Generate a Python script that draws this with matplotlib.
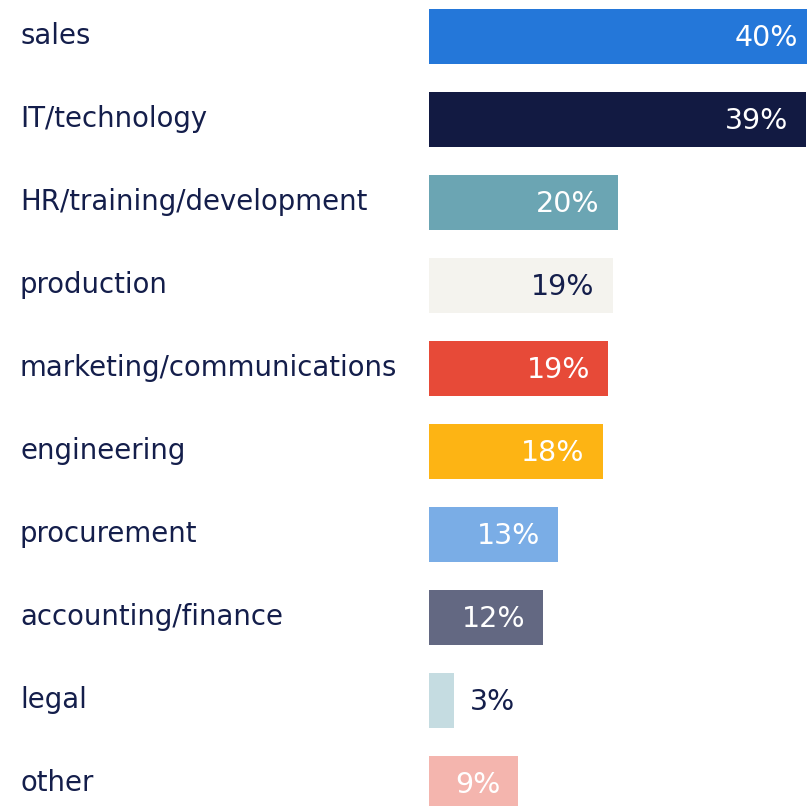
import matplotlib
matplotlib.use("Agg")
from matplotlib import pyplot as plt
from matplotlib import transforms

categories = ["sales", "IT/technology", "HR/training/development", "production",
              "marketing/communications", "engineering", "procurement",
              "accounting/finance", "legal", "other"]
# bar lengths (the printed labels are rounded)
values = [40.2, 39.2, 19.6, 19.1, 18.6, 18.05, 13.4, 11.9, 2.6, 9.3]
value_labels = ["40%", "39%", "20%", "19%", "19%", "18%", "13%", "12%", "3%", "9%"]
colors = ["#2477d9", "#121a42", "#6ba5b3", "#f4f3ee", "#e74a38",
          "#fdb414", "#7aade6", "#636882", "#c5dce1", "#f4b5ae"]
label_colors = ["white", "white", "white", "#141e4b", "white",
                "white", "white", "white", "#141e4b", "white"]

NAVY = "#141e4b"
W, H = 807, 806
PX_PER_PCT = 9.62
PITCH = 83
FIRST_CENTER = 36.5

def main():
    fig = plt.figure(figsize=(W / 100, H / 100), dpi=100)
    left = 429
    ax = fig.add_axes([left / W, 0, (W - left) / W, 1])
    ax.set_xlim(0, (W - left) / PX_PER_PCT)
    top = -FIRST_CENTER / PITCH
    bottom = (len(categories) - 1) + (H - (FIRST_CENTER + PITCH * (len(categories) - 1))) / PITCH
    ax.set_ylim(bottom, top)
    ax.axis("off")

    ypos = list(range(len(categories)))
    ax.barh(ypos, values, height=55 / PITCH, color=colors, left=0)

    trans = transforms.blended_transform_factory(fig.transFigure, ax.transData)
    for i, name in enumerate(categories):
        ax.text(20 / W, i, name, transform=trans, ha="left", va="center",
                fontsize=19.8, color=NAVY, family="DejaVu Sans")

    for i, v in enumerate(values):
        if v < 5:
            ax.annotate(value_labels[i], xy=(v, i), xytext=(16, -2), textcoords="offset pixels",
                        ha="left", va="center", fontsize=20.5, color=label_colors[i],
                        annotation_clip=False)
        else:
            ax.annotate(value_labels[i], xy=(v, i), xytext=(-18, -2), textcoords="offset pixels",
                        ha="right", va="center", fontsize=20.5, color=label_colors[i],
                        annotation_clip=False)

    fig.savefig("out.png", dpi=100, facecolor="white")


if __name__ == "__main__":
    main()
